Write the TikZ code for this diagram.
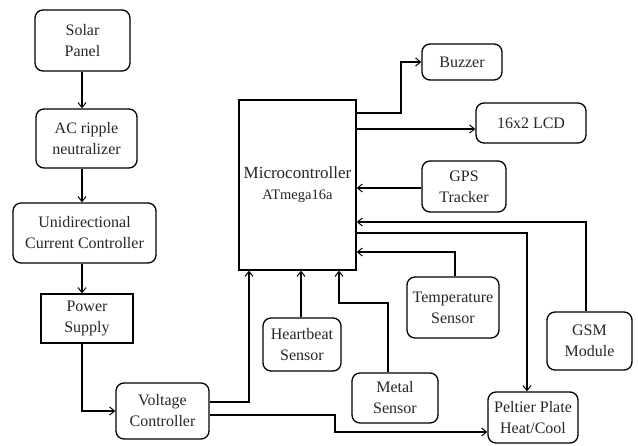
\documentclass[tikz,border=0pt]{standalone}
\usepackage{fontspec}
\setmainfont{Liberation Serif}
\usetikzlibrary{arrows.meta}
\begin{document}
\begin{tikzpicture}[x=1pt,y=-1pt,
  blk/.style={draw, line width=1.3pt, rounded corners=8pt, align=center, inner sep=0pt,
    font=\fontsize{16}{21}\selectfont, text=black!85},
  sq/.style={blk, rounded corners=0pt},
  arr/.style={line width=1.3pt, -{Straight Barb[length=5pt,width=8pt,line width=1pt]}},
  ln/.style={line width=1.3pt}]
\useasboundingbox (0,0) rectangle (638,445);
\node[blk, minimum width=95pt, minimum height=61pt] (solar) at (82.5,40.5) {Solar\\Panel};
\node[blk, minimum width=101pt, minimum height=59pt] (ac) at (86.5,138.5) {AC ripple\\neutralizer};
\node[blk, minimum width=143pt, minimum height=60pt] (uni) at (84.5,233) {Unidirectional\\Current Controller};
\node[sq, minimum width=92pt, minimum height=49pt] (ps) at (87,318.5) {Power\\Supply};
\node[blk, minimum width=93pt, minimum height=56pt] (vc) at (162.5,411) {Voltage\\Controller};
\node[sq, minimum width=117pt, minimum height=170pt] (mcu) at (297.5,185) {\fontsize{17}{26}\selectfont Microcontroller\\\fontsize{14.5}{18}\selectfont ATmega16a};
\node[blk, minimum width=80pt, minimum height=36pt] (buzzer) at (462,62) {Buzzer};
\node[blk, minimum width=110pt, minimum height=40pt] (lcd) at (531,123) {16x2 LCD};
\node[blk, minimum width=84pt, minimum height=51pt] (gps) at (464,186.5) {GPS\\Tracker};
\node[blk, minimum width=92pt, minimum height=61pt] (temp) at (453,307.5) {Temperature\\Sensor};
\node[blk, minimum width=85pt, minimum height=58pt] (gsm) at (589.5,341) {GSM\\Module};
\node[blk, minimum width=90pt, minimum height=51pt] (pelt) at (533,417.5) {Peltier Plate\\Heat/Cool};
\node[blk, minimum width=78pt, minimum height=53pt] (heart) at (302,344.5) {Heartbeat\\Sensor};
\node[blk, minimum width=86pt, minimum height=50pt] (metal) at (395,398) {Metal\\Sensor};
% left chain
\draw[arr] (solar.south -| 82,0) -- (ac.north -| 82,0);
\draw[arr] (ac.south -| 82,0) -- (uni.north -| 82,0);
\draw[arr] (uni.south -| 82,0) -- (ps.north -| 82,0);
\draw[arr] (ps.south -| 82,0) |- (vc.west);
\draw[arr] (vc.east |- 0,402) -| (mcu.south -| 249,0);
\draw[arr] (vc.east |- 0,415) -- (335,415) -- (335,432) -- (pelt.west |- 0,432);
% outputs
\draw[arr] (mcu.east |- 0,113) -- (401,113) |- (buzzer.west);
\draw[arr] (mcu.east |- 0,129) -- (lcd.west |- 0,129);
\draw[arr] (gps.west |- 0,188) -- (mcu.east |- 0,188);
\draw[arr] (gsm.north -| 586,0) |- (mcu.east |- 0,222);
\draw[arr] (mcu.east |- 0,233) -| (pelt.north -| 527,0);
\draw[arr] (temp.north -| 455,0) |- (mcu.east |- 0,252);
\draw[arr] (heart.north -| 301,0) -- (mcu.south -| 301,0);
\draw[arr] (metal.north -| 388,0) -- (388,303) -| (mcu.south -| 339,0);
\end{tikzpicture}
\end{document}
